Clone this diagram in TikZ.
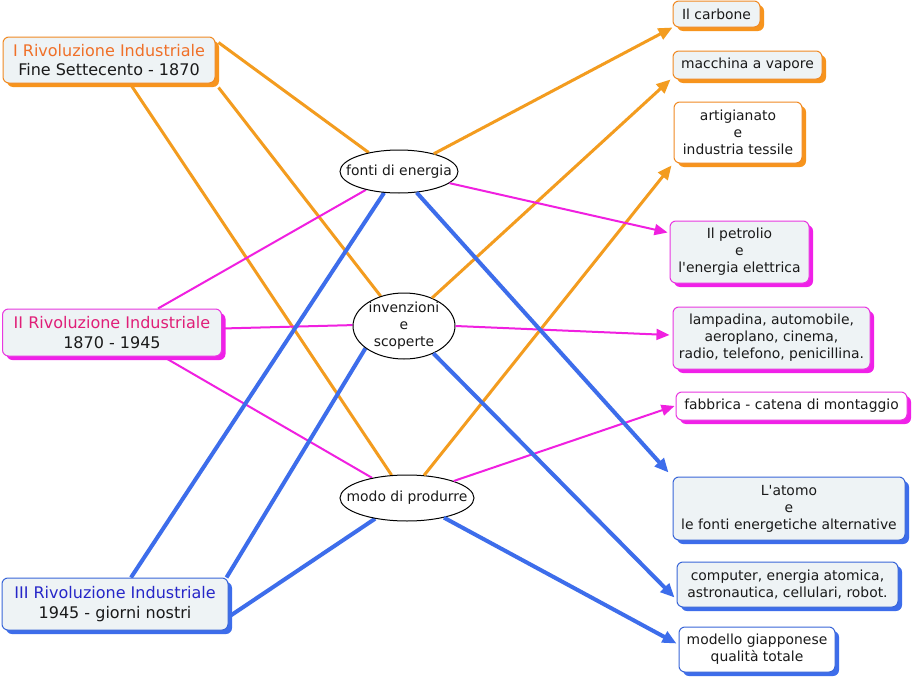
\documentclass[tikz,border=0pt]{standalone}
\usepackage{fontspec}
\setmainfont[Ligatures=TeXOff]{DejaVu Sans}
\usetikzlibrary{arrows.meta,shadows,backgrounds,shapes.geometric}
\definecolor{oline}{HTML}{F39C1F}
\definecolor{obord}{HTML}{F08A24}
\definecolor{oshad}{HTML}{F7941D}
\definecolor{otitle}{HTML}{F07028}
\definecolor{mline}{HTML}{F020E0}
\definecolor{mbord}{HTML}{E838E0}
\definecolor{mshad}{HTML}{F020E8}
\definecolor{mtitle}{HTML}{E01E78}
\definecolor{bline}{HTML}{3D6DEB}
\definecolor{bbord}{HTML}{3A66D8}
\definecolor{bshad}{HTML}{3D6DEB}
\definecolor{btitle}{HTML}{2626C8}
\definecolor{boxfill}{HTML}{EEF3F5}
\definecolor{txt}{HTML}{1A1A1A}
\newcommand\myfbig{\fontsize{16}{19.3}\selectfont}
\newcommand\myfsm{\fontsize{13.9}{17}\selectfont}
\tikzset{
  cbox/.style 2 args={rounded corners=6pt, draw=#1, line width=1pt, align=center,
    inner sep=0pt, text=txt, font=\myfsm,
    drop shadow={fill=#2, opacity=1, shadow xshift=4pt, shadow yshift=-4pt}},
  lbox/.style 2 args={cbox={#1}{#2}, font=\myfbig, fill=boxfill},
  ell/.style={ellipse, draw=black, line width=1pt, fill=white, inner sep=0pt},
  elltext/.style={label={[align=center, inner sep=0pt, text=txt, font=\myfsm]center:#1}},
  oconn/.style={draw=oline, line width=3pt},
  mconn/.style={draw=mline, line width=2pt},
  bconn/.style={draw=bline, line width=4pt},
  oarr/.style={oconn, -{Triangle[length=14pt,width=12pt]}},
  marr/.style={mconn, -{Triangle[length=13pt,width=11pt]}},
  barr/.style={bconn, -{Triangle[length=14pt,width=12pt]}},
}
\begin{document}
\begin{tikzpicture}[x=1pt,y=-1pt]
\useasboundingbox (0,0) rectangle (914,680);

% left boxes
\node[lbox={obord}{oshad}, minimum width=212pt, minimum height=46pt] (r1) at (109,60)
  {\textcolor{otitle}{I Rivoluzione Industriale}\\Fine Settecento - 1870};
\node[lbox={mbord}{mshad}, minimum width=219pt, minimum height=47pt] (r2) at (112,332.5)
  {\textcolor{mtitle}{II Rivoluzione Industriale}\\1870 - 1945};
\node[lbox={bbord}{bshad}, minimum width=226pt, minimum height=52pt] (r3) at (115,604)
  {\textcolor{btitle}{III Rivoluzione Industriale}\\1945 - giorni nostri};

% ellipses
\node[ell, minimum width=118pt, minimum height=43pt, elltext={fonti di energia}] (fonti) at (399,171.5) {};
\node[ell, minimum width=102pt, minimum height=66pt, elltext={invenzioni\\e\\scoperte}] (inv) at (404,326) {};
\node[ell, minimum width=134pt, minimum height=46pt, elltext={modo di produrre}] (modo) at (407,498) {};

% right boxes
\node[cbox={obord}{oshad}, fill=boxfill, minimum width=87pt, minimum height=26pt] (c1) at (716.5,14) {Il carbone};
\node[cbox={obord}{oshad}, fill=boxfill, minimum width=149pt, minimum height=28pt] (c2) at (747.5,65) {macchina a vapore};
\node[cbox={obord}{oshad}, fill=white, minimum width=128pt, minimum height=61pt] (c3) at (738,132.5) {artigianato\\e\\industria tessile};
\node[cbox={mbord}{mshad}, fill=boxfill, minimum width=139pt, minimum height=62pt] (c4) at (739.5,252) {Il petrolio\\e\\l'energia elettrica};
\node[cbox={mbord}{mshad}, fill=boxfill, minimum width=197pt, minimum height=62pt] (c5) at (771.5,338) {lampadina, automobile,\\aeroplano, cinema,\\radio, telefono, penicillina.};
\node[cbox={mbord}{mshad}, fill=white, minimum width=231pt, minimum height=28pt] (c6) at (791.5,406) {fabbrica - catena di montaggio};
\node[cbox={bbord}{bshad}, fill=boxfill, minimum width=232pt, minimum height=63pt] (c7) at (789,508.5) {L'atomo\\e\\le fonti energetiche alternative};
\node[cbox={bbord}{bshad}, fill=boxfill, minimum width=221pt, minimum height=45pt] (c8) at (787.5,584.5) {computer, energia atomica,\\astronautica, cellulari, robot.};
\node[cbox={bbord}{bshad}, fill=white, minimum width=156pt, minimum height=45pt] (c9) at (757,649.5) {modello giapponese\\qualità totale};

\begin{pgfonlayer}{background}
\fill[white] (0,0) rectangle (914,680);
% I Rivoluzione
\draw[oconn] ([xshift=3pt,yshift=-6pt]r1.north east) -- (fonti.148.6);
\draw[oconn] ([xshift=3pt,yshift=-4pt]r1.south east) -- (inv.128.5);
\draw[oconn] ([xshift=21pt]r1.south) -- (modo.124);
% II Rivoluzione
\draw[mconn] ([xshift=46pt]r2.north) -- (fonti.209.7);
\draw[mconn] ([yshift=4pt]r2.east) -- (inv.179);
\draw[mconn] ([xshift=51pt]r2.south) -- (modo.150);
% III Rivoluzione
\draw[bconn] ([xshift=16pt]r3.north) -- (fonti.235.7);
\draw[bconn] ([xshift=-2pt]r3.north east) -- (inv.210);
\draw[bconn] ([yshift=-13pt]r3.east) -- (modo.213);
\end{pgfonlayer}

% arrows to the right
\draw[oarr] (fonti.27) -- (c1.south west);
\draw[oarr] (inv.45) -- ([xshift=-2pt]c2.south west);
\draw[oarr] (modo.53) -- ([xshift=-2pt,yshift=-2pt]c3.south west);
\draw[marr] (fonti.347) -- ([xshift=-2pt,yshift=-12pt]c4.north west);
\draw[marr] (inv.0) -- ([xshift=-3pt,yshift=3pt]c5.west);
\draw[marr] (modo.20) -- ([xshift=-1pt]c6.west);
\draw[barr] (fonti.310) -- ([xshift=-4pt,yshift=4pt]c7.north west);
\draw[barr] (inv.317) -- ([xshift=-2pt,yshift=-13pt]c8.west);
\draw[barr] (modo.332) -- ([xshift=-2pt,yshift=6pt]c9.west);
\end{tikzpicture}
\end{document}
